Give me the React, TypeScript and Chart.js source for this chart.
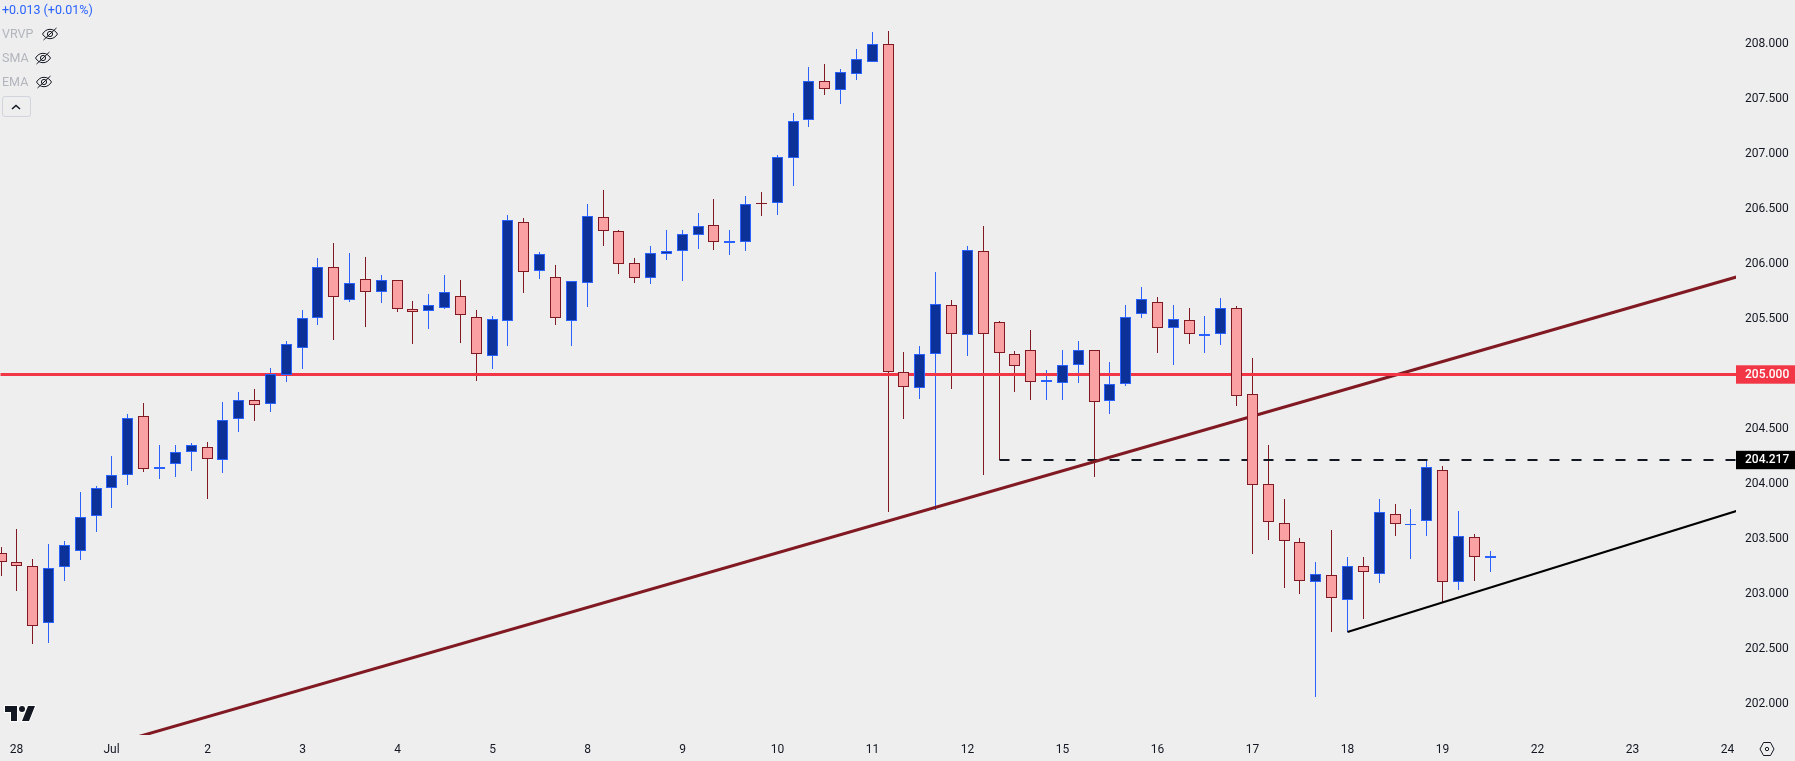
import React, { useEffect, useRef } from "react";
import { Chart, registerables } from "chart.js";

Chart.register(...registerables);

const opens = [203.372,203.290,203.254,202.736,203.245,203.390,203.709,203.963,204.081,204.618,204.136,204.181,204.290,204.336,204.218,204.590,204.763,204.727,204.997,205.236,205.509,205.973,205.673,205.864,205.745,205.855,205.591,205.573,205.600,205.709,205.518,205.163,205.482,206.382,205.936,205.882,205.482,205.827,206.427,206.300,206.009,205.873,206.091,206.118,206.263,206.354,206.191,206.200,206.554,206.554,206.963,207.309,207.663,207.582,207.727,207.836,208.000,205.024,204.873,205.182,205.627,205.355,206.118,205.473,205.182,205.218,204.927,204.918,205.082,205.218,204.755,204.909,205.545,205.655,205.418,205.491,205.350,205.364,205.600,204.818,204.000,203.645,203.472,203.109,203.172,202.945,203.254,203.181,203.727,203.630,203.663,204.127,203.109,203.518,203.327];
const highs = [203.433,203.593,203.321,203.457,203.484,203.930,203.984,204.257,204.639,204.739,204.357,204.357,204.375,204.384,204.748,204.839,204.866,205.055,205.303,205.585,206.058,206.194,206.103,206.067,205.903,205.855,205.667,205.730,205.903,205.857,205.585,205.530,206.448,206.421,206.112,205.994,205.845,206.548,206.676,206.312,206.057,206.166,206.312,206.312,206.466,206.594,206.312,206.621,206.657,206.994,207.375,207.794,207.821,207.776,207.957,208.112,208.121,205.203,205.258,205.930,205.676,206.167,206.348,205.485,205.212,205.403,205.039,205.221,205.303,205.218,205.112,205.630,205.794,205.703,205.630,205.603,205.530,205.694,205.621,205.148,204.357,203.866,203.512,203.293,203.584,203.339,203.339,203.866,203.821,203.775,204.230,204.166,203.757,203.548,203.393];
const lows = [203.169,203.033,202.551,202.560,203.121,203.312,203.566,203.784,203.993,204.112,204.048,204.066,204.121,203.866,204.103,204.475,204.575,204.657,204.933,205.051,205.451,205.312,205.661,205.433,205.651,205.570,205.276,205.415,205.590,205.288,204.942,205.051,205.257,205.742,205.869,205.448,205.257,205.612,206.166,205.912,205.830,205.821,206.039,205.848,206.139,206.130,206.085,206.121,206.439,206.448,206.712,207.251,207.542,207.460,207.676,207.836,203.751,204.594,204.776,203.770,204.867,205.167,204.085,204.221,204.839,204.767,204.767,204.767,204.921,204.067,204.639,204.894,205.512,205.194,205.085,205.276,205.194,205.267,204.712,203.366,203.493,203.057,203.003,202.069,202.660,202.657,202.775,203.103,203.530,203.321,203.530,202.927,203.039,203.121,203.203];
const closes = [203.290,203.254,202.709,203.236,203.445,203.700,203.963,204.081,204.600,204.136,204.154,204.290,204.354,204.227,204.581,204.763,204.718,205.003,205.273,205.509,205.973,205.700,205.827,205.745,205.855,205.591,205.570,205.627,205.745,205.536,205.182,205.500,206.400,205.927,206.091,205.509,205.845,206.436,206.300,206.000,205.873,206.100,206.118,206.273,206.345,206.200,206.209,206.545,206.545,206.973,207.303,207.663,207.591,207.745,207.863,208.000,205.018,204.882,205.182,205.636,205.364,206.127,205.364,205.191,205.073,204.927,204.945,205.082,205.218,204.745,204.909,205.518,205.682,205.418,205.500,205.364,205.364,205.600,204.800,203.990,203.654,203.481,203.118,203.181,202.963,203.254,203.200,203.745,203.636,203.640,204.154,203.109,203.527,203.336,203.345];

const dayTickIndex = [1,7,13,19,25,31,37,43,49,55,61,67,73,79,85,91,97,103,109];
const dayTickLabels = ["28","Jul","2","3","4","5","8","9","10","11","12","15","16","17","18","19","22","23","24"];
const priceTicks = [202,202.5,203,203.5,204,204.217,204.5,205,205.5,206,206.5,207,207.5,208];

const resistanceLevel = 205;
const dashedLevel = 204.217;
const dashedStartIndex = 63;
const risingTrendX = [0,110];
const risingTrendY = [201.348,205.905];
const supportTrendX = [85,109.557];
const supportTrendY = [202.657,203.76];

const xMin = -0.0391;
const xMax = 109.557;
const yMin = 201.721;
const yMax = 208.403;

const BG = "#eeeeee";
const UP_FILL = "#0c3299";
const UP_LINE = "#2962ff";
const DOWN_FILL = "#faa1a4";
const DOWN_LINE = "#801922";
const LEVEL_RED = "#f23645";
const INK = "#131722";
const FONT = "Roboto, sans-serif";

const pixelSnap = {
  id: "pixelSnap",
  beforeDatasetsUpdate(chart: any) {
    const sx = chart.scales.x;
    const sy = chart.scales.y;
    if (!sx.__snapped) {
      const fx = sx.getPixelForValue.bind(sx);
      sx.getPixelForValue = (v: number, i?: number) => Math.round(fx(v, i)) + 0.5;
      sx.__snapped = true;
    }
    if (!sy.__snapped) {
      const fy = sy.getPixelForValue.bind(sy);
      sy.getPixelForValue = (v: number, i?: number) => Math.round(fy(v, i)) + (v === resistanceLevel ? 0.5 : 0);
      sy.__snapped = true;
    }
  },
};

const noPadding = (s: any) => {
  s.paddingLeft = 0;
  s.paddingRight = 0;
  s.paddingTop = 0;
  s.paddingBottom = 0;
};

function EyeOff({ left, top }: { left: number; top: number }) {
  return (
    <svg width="18" height="18" viewBox="0 0 18 18" style={{ position: "absolute", left, top }} fill="none" stroke={INK} strokeWidth="1">
      <path d="M1.5 9C3.5 5.8 6 4.3 9 4.3s5.500 1.500 7.500 4.700C14.500 12.200 12 13.700 9 13.700S3.500 12.200 1.500 9Z" />
      <circle cx="9" cy="9" r="2.600" />
      <path d="M2.500 15L15.500 3" />
    </svg>
  );
}

function Label({ text, left, top, color, size }: { text: string; left: number; top: number; color: string; size: number }) {
  return (
    <div style={{ position: "absolute", left, top, color, fontFamily: FONT, fontSize: size, lineHeight: "18px", whiteSpace: "nowrap" }}>
      {text}
    </div>
  );
}

export default function App() {
  const ref = useRef<HTMLCanvasElement>(null);

  useEffect(() => {
    document.body.style.margin = "0";
    document.body.style.background = BG;
    const idx = opens.map((_, i) => i);
    const isUp = (i: number) => closes[i] >= opens[i];
    const chart = new Chart(ref.current!, {
      type: "bar",
      plugins: [pixelSnap],
      data: {
        datasets: [
          {
            type: "bar",
            label: "wicks",
            order: 3,
            data: idx.map((i) => ({ x: i, y: [lows[i], highs[i]] })),
            barThickness: 1,
            borderWidth: 0,
            inflateAmount: 0,
            grouped: false,
            backgroundColor: idx.map((i) => (isUp(i) ? UP_LINE : DOWN_LINE)),
          },
          {
            type: "line",
            label: "level",
            order: 2,
            data: [{ x: xMin, y: resistanceLevel }, { x: xMax, y: resistanceLevel }],
            borderColor: LEVEL_RED,
            borderWidth: 3,
            pointRadius: 0,
          },
          {
            type: "line",
            label: "rising trend",
            order: 2,
            data: risingTrendX.map((x, i) => ({ x, y: risingTrendY[i] })),
            borderColor: DOWN_LINE,
            borderWidth: 3,
            pointRadius: 0,
          },
          {
            type: "line",
            label: "dashed level",
            order: 2,
            data: [{ x: dashedStartIndex, y: dashedLevel }, { x: xMax, y: dashedLevel }],
            borderColor: INK,
            borderWidth: 2,
            borderDash: [10, 12],
            pointRadius: 0,
          },
          {
            type: "line",
            label: "support trend",
            order: 2,
            data: supportTrendX.map((x, i) => ({ x, y: supportTrendY[i] })),
            borderColor: "#000000",
            borderWidth: 2,
            pointRadius: 0,
          },
          {
            type: "bar",
            label: "bodies",
            order: 1,
            data: idx.map((i) => ({ x: i, y: [opens[i], closes[i]] })),
            barThickness: 11,
            borderWidth: 1,
            borderSkipped: false,
            inflateAmount: 0,
            grouped: false,
            backgroundColor: idx.map((i) => (isUp(i) ? UP_FILL : DOWN_FILL)),
            borderColor: idx.map((i) => (isUp(i) ? UP_LINE : DOWN_LINE)),
          },
        ],
      } as any,
      options: {
        animation: false,
        responsive: false,
        events: [],
        layout: { padding: 0, autoPadding: false },
        plugins: { legend: { display: false }, tooltip: { enabled: false } },
        scales: {
          x: {
            type: "linear",
            offset: false,
            min: xMin,
            max: xMax,
            grid: { display: false, drawTicks: false },
            border: { display: false },
            afterFit: (s: any) => { s.height = 26; noPadding(s); },
            afterBuildTicks: (s: any) => { s.ticks = dayTickIndex.map((value) => ({ value })); },
            ticks: {
              autoSkip: false,
              maxRotation: 0,
              padding: 8,
              color: INK,
              font: { family: FONT, size: 12 },
              callback: (v: any) => dayTickLabels[dayTickIndex.indexOf(Number(v))],
            },
          },
          y: {
            type: "linear",
            position: "right",
            min: yMin,
            max: yMax,
            grid: { display: false, drawTicks: false },
            border: { display: false },
            afterFit: (s: any) => { s.width = 59; noPadding(s); },
            afterBuildTicks: (s: any) => { s.ticks = priceTicks.map((value) => ({ value })); },
            ticks: {
              autoSkip: false,
              padding: 9,
              font: (c: any) => ({ family: FONT, size: 12, weight: c.tick && (c.tick.value === resistanceLevel || c.tick.value === dashedLevel) ? "500" : "400" }),
              color: (c: any) => (c.tick && (c.tick.value === resistanceLevel || c.tick.value === dashedLevel) ? "#ffffff" : INK),
              showLabelBackdrop: (c: any) => !!c.tick && (c.tick.value === resistanceLevel || c.tick.value === dashedLevel),
              backdropColor: (c: any) => (c.tick && c.tick.value === resistanceLevel ? LEVEL_RED : "#000000"),
              backdropPadding: { left: 9, right: 6, top: 2, bottom: 2 },
              callback: (v: any) => Number(v).toFixed(3),
            },
          },
        },
      } as any,
    });
    return () => chart.destroy();
  }, []);

  return (
    <div style={{ position: "relative", width: 1795, height: 761, background: BG, overflow: "hidden" }}>
      <canvas ref={ref} width={1795} height={761} style={{ display: "block", position: "absolute", left: 0, top: 0 }} />
      <Label text="+0.013 (+0.01%)" left={2} top={1} color="#2962ff" size={12.5} />
      <Label text="VRVP" left={2} top={25} color="#b2b5be" size={12.5} />
      <EyeOff left={41} top={25} />
      <Label text="SMA" left={2} top={49} color="#b2b5be" size={12.5} />
      <EyeOff left={34} top={49} />
      <Label text="EMA" left={2} top={73} color="#b2b5be" size={12.5} />
      <EyeOff left={35} top={73} />
      <div style={{ position: "absolute", left: 2, top: 96, width: 27, height: 19, border: "1px solid #d1d4dc", borderRadius: 3 }} />
      <svg width="12" height="8" viewBox="0 0 12 8" style={{ position: "absolute", left: 10, top: 103 }} fill="none" stroke={INK} strokeWidth="1.500">
        <path d="M2 6L6 2.500L10 6" />
      </svg>
      <svg width="36" height="28" viewBox="0 0 36 28" style={{ position: "absolute", left: 3, top: 700 }}>
        <path
          d="M14 6H2v6h6v9h6V6Zm12 15h-7l6-15h7l-6 15Zm-7-9a3 3 0 1 0 0-6 3 3 0 0 0 0 6Z"
          fill={INK}
          stroke="#ffffff"
          strokeWidth="2"
          style={{ paintOrder: "stroke" }}
        />
      </svg>
      <svg width="18" height="18" viewBox="0 0 18 18" style={{ position: "absolute", left: 1758, top: 740 }} fill="none" stroke={INK} strokeWidth="1">
        <path d="M5.500 2.500h7L16 9l-3.500 6.500h-7L2 9Z" />
        <circle cx="9" cy="9" r="1.700" />
      </svg>
    </div>
  );
}
